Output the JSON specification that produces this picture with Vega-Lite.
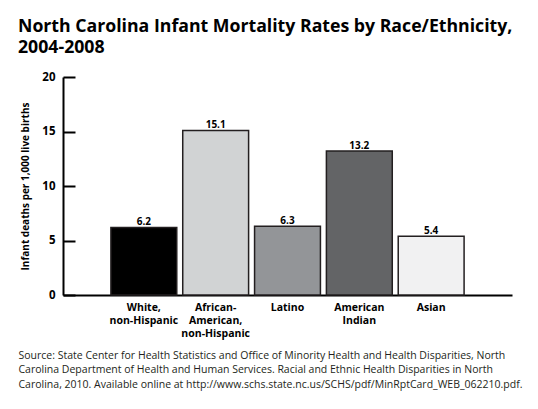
{
  "$schema": "https://vega.github.io/schema/vega-lite/v6.json",
  "width": 449,
  "height": 218,
  "autosize": {"type": "none"},
  "padding": {"left": 63, "top": 77, "right": 26, "bottom": 114},
  "background": "white",
  "config": {
    "view": {"stroke": null},
    "font": "Open Sans"
  },
  "title": {
    "text": ["North Carolina Infant Mortality Rates by Race/Ethnicity,", "2004-2008"],
    "anchor": "start",
    "frame": "group",
    "dx": -45,
    "fontSize": 17.7,
    "fontWeight": "bold",
    "font": "Open Sans",
    "color": "#000000",
    "lineHeight": 21,
    "offset": 14
  },
  "data": {
    "values": [
      {"group": "White, non-Hispanic", "rate": 6.2},
      {"group": "African-American, non-Hispanic", "rate": 15.1},
      {"group": "Latino", "rate": 6.3},
      {"group": "American Indian", "rate": 13.2},
      {"group": "Asian", "rate": 5.4}
    ]
  },
  "encoding": {
    "x": {
      "field": "group",
      "type": "nominal",
      "sort": null,
      "scale": {"paddingInner": 0.083, "paddingOuter": 0.667},
      "axis": {
        "title": ["Source: State Center for Health Statistics and Office of Minority Health and Health Disparities, North", "Carolina Department of Health and Human Services. Racial and Ethnic Health Disparities in North", "Carolina, 2010. Available online at http://www.schs.state.nc.us/SCHS/pdf/MinRptCard_WEB_062210.pdf."],
        "titleFont": "Open Sans",
        "titleFontWeight": "normal",
        "titleFontSize": 10.5,
        "titleColor": "#231f20",
        "titleLineHeight": 14.3,
        "titleAnchor": "start",
        "titleAlign": "left",
        "titleBaseline": "alphabetic",
        "titleX": -45,
        "titleY": 63.5,
        "labelAngle": 0,
        "labelExpr": "split(replace(datum.label, 'African-', 'African- '), ' ')",
        "labelFontWeight": "bold",
        "labelFontSize": 10.5,
        "labelColor": "#000000",
        "labelLineHeight": 13,
        "labelPadding": 7,
        "ticks": false,
        "tickSize": 0,
        "domainColor": "#000000",
        "domainWidth": 2
      }
    },
    "y": {
      "field": "rate",
      "type": "quantitative",
      "scale": {"domain": [0, 20], "nice": false},
      "axis": {
        "title": "Infant deaths per 1,000 live births",
        "titleFontSize": 10,
        "titleFontWeight": "bold",
        "titleColor": "#000000",
        "titlePadding": 11,
        "values": [0, 5, 10, 15, 20],
        "grid": false,
        "tickSize": -12,
        "tickWidth": 2,
        "tickColor": "#000000",
        "domainColor": "#000000",
        "domainWidth": 2,
        "labelFontWeight": "bold",
        "labelFontSize": 11.5,
        "labelColor": "#000000",
        "labelPadding": 20
      }
    }
  },
  "layer": [
    {
      "mark": {"type": "bar", "stroke": "#231f20", "strokeWidth": 1.5},
      "encoding": {
        "color": {
          "field": "group",
          "type": "nominal",
          "legend": null,
          "scale": {
            "domain": ["White, non-Hispanic", "African-American, non-Hispanic", "Latino", "American Indian", "Asian"],
            "range": ["#000000", "#d1d3d4", "#939598", "#636466", "#f1f1f2"]
          }
        }
      }
    },
    {
      "mark": {"type": "text", "baseline": "alphabetic", "dy": -2, "fontWeight": "bold", "fontSize": 10, "color": "#000000"},
      "encoding": {
        "text": {"field": "rate", "type": "quantitative", "format": ".1f"}
      }
    }
  ]
}
